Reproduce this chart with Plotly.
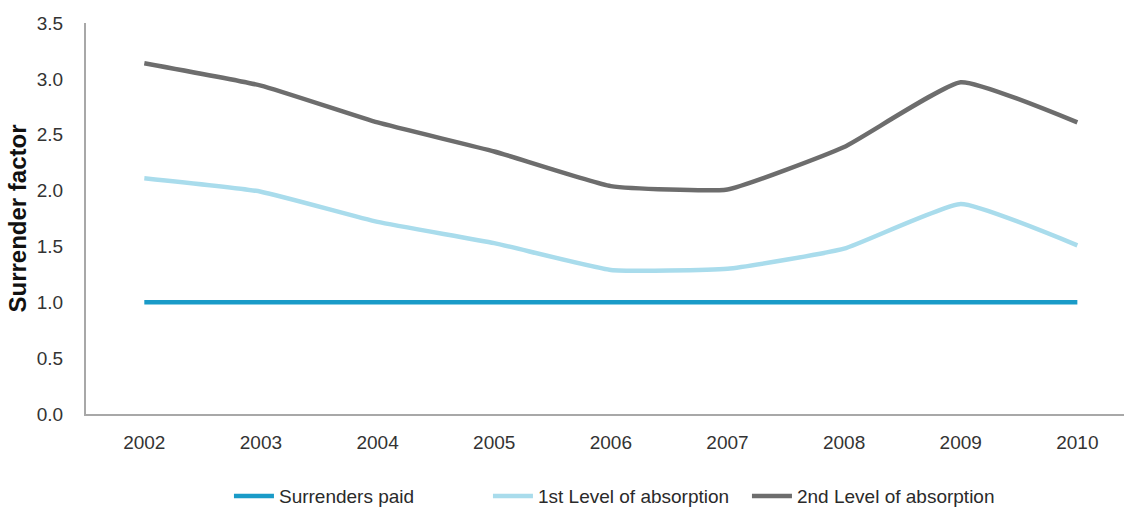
import plotly.graph_objects as go

years = ["2002", "2003", "2004", "2005", "2006", "2007", "2008", "2009", "2010"]
surrenders_paid = [1.0, 1.0, 1.0, 1.0, 1.0, 1.0, 1.0, 1.0, 1.0]
first_level = [2.11, 1.99, 1.72, 1.53, 1.29, 1.30, 1.48, 1.88, 1.51]
second_level = [3.14, 2.94, 2.61, 2.35, 2.04, 2.01, 2.39, 2.97, 2.61]

series = [
    ("Surrenders paid", surrenders_paid, "#1a9bc8"),
    ("1st Level of absorption", first_level, "#a9dcec"),
    ("2nd Level of absorption", second_level, "#6d6d6d"),
]

fig = go.Figure()
for name, vals, color in series:
    fig.add_trace(go.Scatter(
        x=years, y=vals, name=name, mode="lines",
        line=dict(color=color, width=4.5, shape="spline", smoothing=0.4),
    ))

fig.update_layout(
    width=1124, height=511,
    margin=dict(l=86, r=0, t=23, b=97, autoexpand=False),
    paper_bgcolor="white", plot_bgcolor="white",
    font=dict(family="Liberation Sans, Arial, sans-serif", size=19, color="#333333"),
    showlegend=True,
    legend=dict(
        orientation="h", x=0.512, xanchor="center", y=-0.21, yanchor="middle",
        font=dict(size=19, color="#2a2a2a"), itemwidth=40,
        entrywidth=204, entrywidthmode="pixels",
    ),
    xaxis=dict(
        type="category", range=[-0.5, 8.4],
        showline=True, linecolor="#a8a8a8", linewidth=2,
        showgrid=False, zeroline=False, ticks="",
        ticklabelstandoff=10,
    ),
    yaxis=dict(
        range=[0, 3.5], dtick=0.5, tickformat=".1f",
        showline=True, linecolor="#a8a8a8", linewidth=2,
        showgrid=False, zeroline=False, ticks="",
        ticklabelstandoff=17,
        title=dict(text="<b>Surrender factor</b>", font=dict(size=24, color="#111111"), standoff=3),
    ),
)

fig.write_html("out.html")
